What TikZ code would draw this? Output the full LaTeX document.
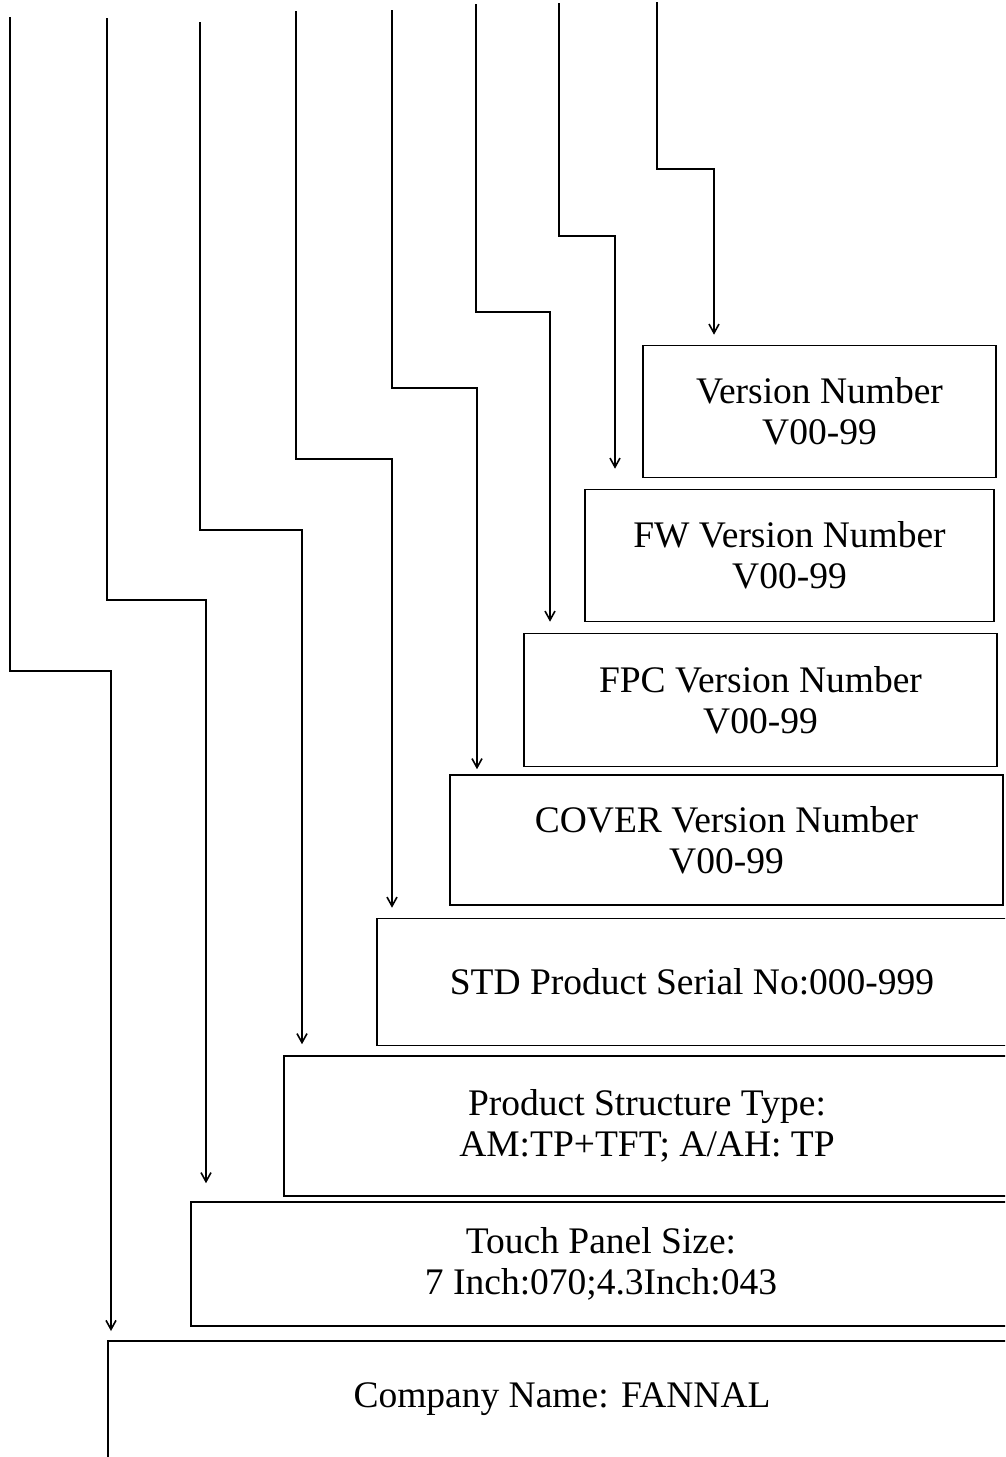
\documentclass[tikz,border=0pt]{standalone}
\usepackage{fontspec}
\setmainfont{Liberation Serif}
\usetikzlibrary{arrows.meta}
\begin{document}
\begin{tikzpicture}[x=1pt,y=-1pt,
  conn/.style={line width=1.6pt, -{Straight Barb[length=9pt,width=10pt]}},
  box/.style={draw, line width=1.6pt, inner sep=0pt, align=center, font=\fontsize{37.5}{41}\selectfont},
  lbl/.style={align=center, font=\fontsize{37.5}{41}\selectfont, inner sep=0pt}]
\useasboundingbox (0,0) rectangle (1005,1457);
\clip (0,0) rectangle (1005,1457);
% boxes
\node[box, minimum width=353, minimum height=132] (ver) at (819.5,411.5) {Version Number\\V00-99};
\node[box, minimum width=409, minimum height=132] (fw) at (789.5,555.5) {FW Version Number\\V00-99};
\node[box, minimum width=473, minimum height=133] (fpc) at (760.5,700) {FPC Version Number\\V00-99};
\node[box, minimum width=553, minimum height=130] (cover) at (726.5,840) {COVER Version Number\\V00-99};
\node[box, minimum width=630, minimum height=127] (std) at (692,982) {STD Product Serial No:000-999};
\node[box, minimum width=726, minimum height=140] (prod) at (647,1126) {Product Structure Type:\\AM:TP+TFT; A/AH: TP};
\node[box, minimum width=820, minimum height=124] (touch) at (601,1264) {Touch Panel Size:\\7 Inch:070;4.3Inch:043};
\node[draw, line width=1.6pt, inner sep=0pt, minimum width=910, minimum height=140, anchor=north west] (comp) at (107,1340) {};
\node[lbl] (compt) at (562,1399) {Company Name: FANNAL};
% start points and elbows
\coordinate (s1) at (10,17);   \coordinate (e1) at (111,671);
\coordinate (s2) at (107,18);  \coordinate (e2) at (206,600);
\coordinate (s3) at (200,22);  \coordinate (e3) at (302,530);
\coordinate (s4) at (296,11);  \coordinate (e4) at (392,459);
\coordinate (s5) at (392,10);  \coordinate (e5) at (477,388);
\coordinate (s6) at (476,4);   \coordinate (e6) at (550,312);
\coordinate (s7) at (559,3);   \coordinate (e7) at (615,236);
\coordinate (s8) at (657,2);   \coordinate (e8) at (714,169);
% connectors
\draw[conn, shorten >=9pt]  (s1) |- (e1) -- (e1 |- comp.north);
\draw[conn, shorten >=18pt] (s2) |- (e2) -- (e2 |- touch.north);
\draw[conn, shorten >=11pt] (s3) |- (e3) -- (e3 |- prod.north);
\draw[conn, shorten >=10pt] (s4) |- (e4) -- (e4 |- std.north);
\draw[conn, shorten >=5pt]  (s5) |- (e5) -- (e5 |- cover.north);
\draw[conn, shorten >=11pt] (s6) |- (e6) -- (e6 |- fpc.north);
\draw[conn, shorten >=20pt] (s7) |- (e7) -- (e7 |- fw.north);
\draw[conn, shorten >=10pt] (s8) |- (e8) -- (e8 |- ver.north);
\end{tikzpicture}
\end{document}
